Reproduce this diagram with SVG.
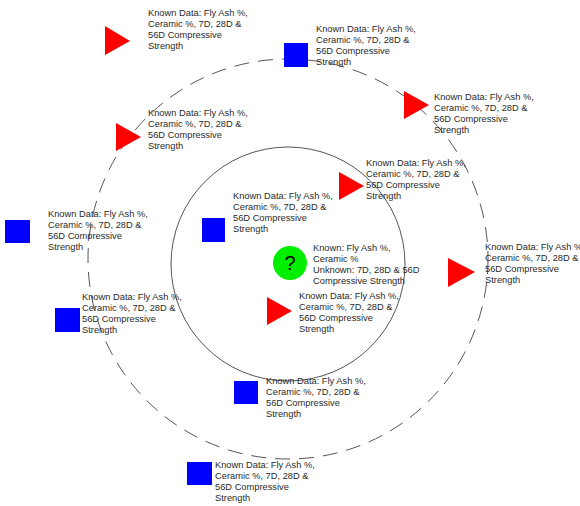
<svg xmlns="http://www.w3.org/2000/svg" width="580" height="506" viewBox="0 0 580 506">
<style>
.t{font-family:"Liberation Sans",Arial,sans-serif;font-size:9.3px;fill:#2a2a2a}
.tri{fill:#ff0000}
.sq{fill:#0000ff}
.ring{fill:none;stroke:#555;stroke-width:1}
</style>
<rect width="580" height="506" fill="#fff"/>
<g id="rings">
<circle class="ring" cx="288" cy="259" r="200" stroke-dasharray="15 9"/>
<circle class="ring" cx="288" cy="264" r="117" stroke="#666"/>
</g>
<g id="n1"><polygon class="tri" points="105,26 105,55 130,41"/>
<text class="t" x="148" y="16"><tspan x="148">Known Data: Fly Ash %,</tspan><tspan x="148" dy="11">Ceramic %, 7D, 28D &amp;</tspan><tspan x="148" dy="11">56D Compressive</tspan><tspan x="148" dy="11">Strength</tspan></text></g>
<g id="n2"><rect class="sq" x="284" y="43" width="24" height="24"/>
<text class="t" x="316" y="32"><tspan x="316">Known Data: Fly Ash %,</tspan><tspan x="316" dy="11">Ceramic %, 7D, 28D &amp;</tspan><tspan x="316" dy="11">56D Compressive</tspan><tspan x="316" dy="11">Strength</tspan></text></g>
<g id="n3"><polygon class="tri" points="404,91 404,119 429,105"/>
<text class="t" x="434" y="100"><tspan x="434">Known Data: Fly Ash %,</tspan><tspan x="434" dy="11">Ceramic %, 7D, 28D &amp;</tspan><tspan x="434" dy="11">56D Compressive</tspan><tspan x="434" dy="11">Strength</tspan></text></g>
<g id="n4"><polygon class="tri" points="116,123 116,151 141,137"/>
<text class="t" x="148" y="116"><tspan x="148">Known Data: Fly Ash %,</tspan><tspan x="148" dy="11">Ceramic %, 7D, 28D &amp;</tspan><tspan x="148" dy="11">56D Compressive</tspan><tspan x="148" dy="11">Strength</tspan></text></g>
<g id="n5"><polygon class="tri" points="339,172 339,200 364,186"/>
<text class="t" x="366" y="166"><tspan x="366">Known Data: Fly Ash %,</tspan><tspan x="366" dy="11">Ceramic %, 7D, 28D &amp;</tspan><tspan x="366" dy="11">56D Compressive</tspan><tspan x="366" dy="11">Strength</tspan></text></g>
<g id="n6"><rect class="sq" x="202" y="218" width="23" height="24"/>
<text class="t" x="233" y="199"><tspan x="233">Known Data: Fly Ash %,</tspan><tspan x="233" dy="11">Ceramic %, 7D, 28D &amp;</tspan><tspan x="233" dy="11">56D Compressive</tspan><tspan x="233" dy="11">Strength</tspan></text></g>
<g id="n7"><rect class="sq" x="5" y="220" width="25" height="23"/>
<text class="t" x="48" y="217"><tspan x="48">Known Data: Fly Ash %,</tspan><tspan x="48" dy="11">Ceramic %, 7D, 28D &amp;</tspan><tspan x="48" dy="11">56D Compressive</tspan><tspan x="48" dy="11">Strength</tspan></text></g>
<g id="n8"><polygon class="tri" points="448,258 448,287 475,272"/>
<text class="t" x="485" y="250"><tspan x="485">Known Data: Fly Ash %,</tspan><tspan x="485" dy="11">Ceramic %, 7D, 28D &amp;</tspan><tspan x="485" dy="11">56D Compressive</tspan><tspan x="485" dy="11">Strength</tspan></text></g>
<g id="target"><circle cx="290" cy="263" r="17" fill="#00ee00"/>
<text x="290" y="270" text-anchor="middle" style="font-family:'Liberation Sans',Arial,sans-serif;font-size:20px;fill:#000">?</text>
<text class="t" x="313" y="251"><tspan x="313">Known: Fly Ash %,</tspan><tspan x="313" dy="11">Ceramic %</tspan><tspan x="313" dy="11">Unknown: 7D, 28D &amp; 56D</tspan><tspan x="313" dy="11">Compressive Strength</tspan></text></g>
<g id="n9"><polygon class="tri" points="267,297 267,325 292,311"/>
<text class="t" x="299" y="299"><tspan x="299">Known Data: Fly Ash %,</tspan><tspan x="299" dy="11">Ceramic %, 7D, 28D &amp;</tspan><tspan x="299" dy="11">56D Compressive</tspan><tspan x="299" dy="11">Strength</tspan></text></g>
<g id="n10"><rect class="sq" x="55" y="308" width="25" height="24"/>
<text class="t" x="82" y="300"><tspan x="82">Known Data: Fly Ash %,</tspan><tspan x="82" dy="11">Ceramic %, 7D, 28D &amp;</tspan><tspan x="82" dy="11">56D Compressive</tspan><tspan x="82" dy="11">Strength</tspan></text></g>
<g id="n11"><rect class="sq" x="234" y="381" width="24" height="23"/>
<text class="t" x="266" y="384"><tspan x="266">Known Data: Fly Ash %,</tspan><tspan x="266" dy="11">Ceramic %, 7D, 28D &amp;</tspan><tspan x="266" dy="11">56D Compressive</tspan><tspan x="266" dy="11">Strength</tspan></text></g>
<g id="n12"><rect class="sq" x="187" y="462" width="25" height="23"/>
<text class="t" x="215" y="468"><tspan x="215">Known Data: Fly Ash %,</tspan><tspan x="215" dy="11">Ceramic %, 7D, 28D &amp;</tspan><tspan x="215" dy="11">56D Compressive</tspan><tspan x="215" dy="11">Strength</tspan></text></g>
<g id="connectors"></g>
</svg>
